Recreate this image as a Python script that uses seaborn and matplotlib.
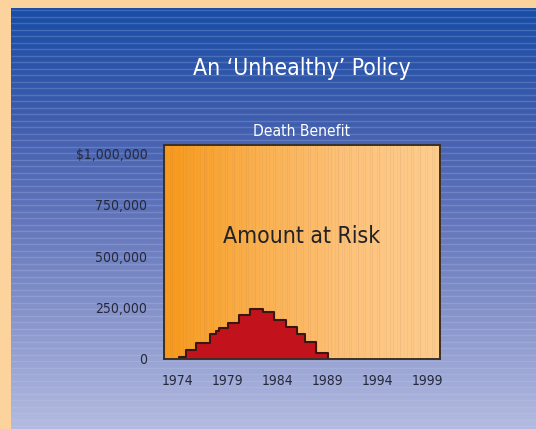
import numpy as np
import pandas as pd
import seaborn as sns
import matplotlib.pyplot as plt
from matplotlib.colors import LinearSegmentedColormap

# step edges (years) and amount at risk for each step
step_edges = [1974.1, 1974.85, 1975.85, 1977.2, 1977.85, 1978.15, 1979.05, 1980.1,
              1981.25, 1982.5, 1983.65, 1984.85, 1985.95, 1986.75, 1987.85, 1989.0]
amount_at_risk = [10000, 46000, 80000, 120000, 136000, 152000, 175000, 212000,
                  243000, 228000, 191000, 157000, 120000, 83000, 28000]
year_ticks = [1974, 1979, 1984, 1989, 1994, 1999]
value_ticks = [0, 250000, 500000, 750000, 1000000]
value_labels = ["0", "250,000", "500,000", "750,000", "$1,000,000"]

sns.set_theme(style="white")
plt.rcParams["font.family"] = ["DejaVu Sans"]
plt.rcParams["font.stretch"] = "condensed"

W, H = 536, 429
fig = plt.figure(figsize=(W / 100, H / 100), dpi=100)
fig.patch.set_facecolor("#FDD39D")

# blue panel with vertical gradient + faint horizontal stripes
bg = fig.add_axes([11 / W, 0, 1 - 11 / W, 1 - 8 / H], zorder=-2)
blue = LinearSegmentedColormap.from_list(
    "blue", ["#184DA6", "#3D5CAD", "#6275BB", "#8A97CC", "#B3BBE0"])
bg.imshow(np.linspace(0, 1, 256)[:, None], aspect="auto", cmap=blue,
          extent=[0, 1, 0, 1], origin="upper")
bg.hlines(np.arange(0.006, 1, 6.5 / (H - 8)), 0, 1, color="#C8D0F0", alpha=0.22, lw=1.0)
bg.set_xlim(0, 1)
bg.set_ylim(0, 1)
bg.axis("off")

ax = fig.add_axes([164 / W, 1 - 359 / H, (440 - 164) / W, (359 - 144.7) / H])
xlim = (1972.65, 2000.25)
ylim = (0, 1043000)

# orange horizontal gradient in the plot area
orange = LinearSegmentedColormap.from_list("orange", ["#F7991B", "#FAB04E", "#FDC27A", "#FECD8E"])
ax.imshow(np.linspace(0, 1, 256)[None, :], aspect="auto", cmap=orange,
          extent=[xlim[0], xlim[1], ylim[0], ylim[1]], zorder=0)
stripe_x = np.arange(xlim[0] + 0.1, xlim[1], 0.23)
stripe_a = np.tile([0.10, 0.0, 0.06, 0.14, 0.0, 0.04, 0.09, 0.0, 0.12], len(stripe_x) // 9 + 1)[:len(stripe_x)]
for sx, sa in zip(stripe_x, stripe_a):
    if sa > 0:
        ax.axvline(sx, color="#9A7060", alpha=sa, lw=0.6, zorder=0.5)

df = pd.DataFrame({"year": step_edges, "amount": amount_at_risk + [0]})
ax.fill_between(df["year"], df["amount"], step="post", color="#C2131C", lw=0, zorder=2)
outline = pd.concat([pd.DataFrame({"year": [step_edges[0]], "amount": [0]}), df], ignore_index=True)
sns.lineplot(data=outline, x="year", y="amount", estimator=None, sort=False,
             drawstyle="steps-post", color="#3A1512", lw=1.5, ax=ax, zorder=3)

ax.set_xlim(*xlim)
ax.set_ylim(*ylim)
ax.set_xticks(year_ticks)
ax.set_xticklabels([str(y) for y in year_ticks])
ax.set_yticks(value_ticks)
ax.set_yticklabels(value_labels)
ax.tick_params(axis="both", length=0, labelsize=10, labelcolor="#26283A")
ax.tick_params(axis="y", pad=12)
ax.tick_params(axis="x", pad=10.5)
ax.set_xlabel("")
ax.set_ylabel("")
ax.grid(False)
for sp in ax.spines.values():
    sp.set_visible(True)
    sp.set_color("#3A3026")
    sp.set_linewidth(1.4)
    sp.set_zorder(4)

ax.text(0.5, (359 - 237) / (359 - 144.7), "Amount at Risk", transform=ax.transAxes,
        ha="center", va="center", fontsize=16.5, color="#222226", zorder=5)

fig.text(302 / W, 1 - 68 / H, "An \u2018Unhealthy\u2019 Policy", ha="center", va="center",
         fontsize=16.5, color="white")
fig.text(302 / W, 1 - 132 / H, "Death Benefit", ha="center", va="center",
         fontsize=11.2, color="white")

fig.savefig("out.png", dpi=100, facecolor=fig.get_facecolor())
